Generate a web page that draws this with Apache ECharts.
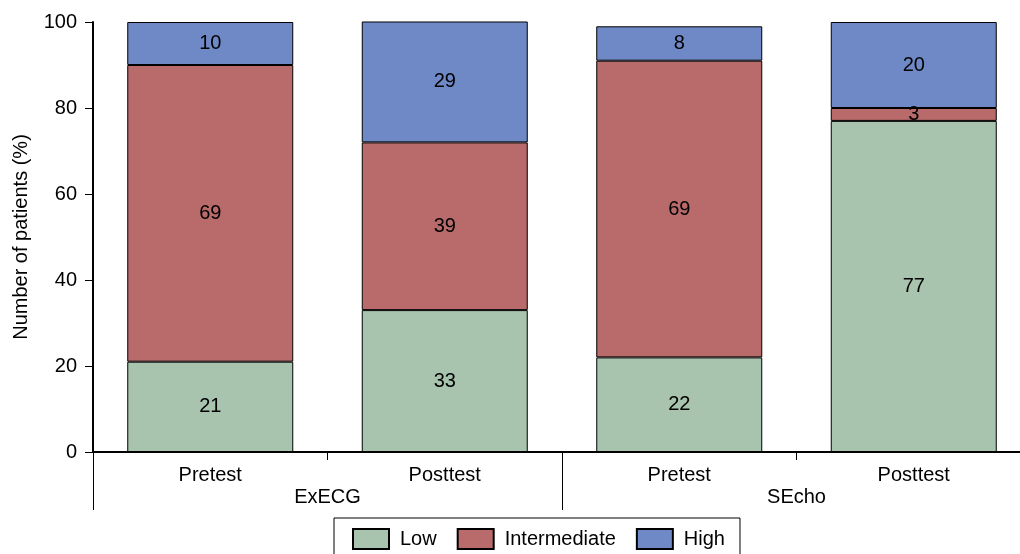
<!DOCTYPE html>
<html>
<head>
<meta charset="utf-8">
<script src="https://cdn.jsdelivr.net/npm/echarts@6/dist/echarts.min.js"></script>
<style>
  html, body { margin: 0; padding: 0; background: #fff; overflow: hidden; }
  #chart { width: 1020px; height: 554px; }
</style>
</head>
<body>
<div id="chart"></div>
<script>
// Risk category shares (%) before and after each test
const phases = ['Pretest', 'Posttest', 'Pretest', 'Posttest'];
const tests = ['ExECG', 'SEcho'];
const lowRisk = [21, 33, 22, 77];
const intermediateRisk = [69, 39, 69, 3];
const highRisk = [10, 29, 8, 20];
const yTicks = [0, 20, 40, 60, 80, 100];

const FONT = '"Liberation Sans", Arial, Helvetica, sans-serif';
const colors = { Low: '#a8c4ae', Intermediate: '#b96a6b', High: '#6f89c7' };

function segment(name, values) {
  return {
    name: name,
    type: 'bar',
    stack: 'risk',
    xAxisIndex: 0,
    barWidth: 166,
    clip: true,
    data: values,
    itemStyle: { color: colors[name], borderColor: '#000', borderWidth: 1 },
    label: {
      show: true,
      position: 'inside',
      color: '#000',
      fontFamily: FONT,
      fontSize: 20
    }
  };
}

const chart = echarts.init(document.getElementById('chart'), null, { renderer: 'canvas' });
chart.setOption({
  animation: false,
  textStyle: { fontFamily: FONT },
  // the last category runs past the right edge of the page
  grid: { left: 93, top: 22, width: 938, height: 430, containLabel: false, outerBoundsMode: 'none' },
  legend: {
    data: ['Low', 'Intermediate', 'High'],
    icon: 'rect',
    left: 334,
    top: 518,
    orient: 'horizontal',
    itemWidth: 36,
    itemHeight: 20,
    itemGap: 20,
    padding: [10, 15, 10, 18],
    borderColor: '#000',
    borderWidth: 1,
    textStyle: { color: '#000', fontFamily: FONT, fontSize: 20, padding: [0, 0, 0, 6] }
  },
  xAxis: [
    {
      type: 'category',
      data: phases,
      position: 'bottom',
      axisLine: { show: true, lineStyle: { color: '#000', width: 2 } },
      axisTick: { show: true, length: 8, lineStyle: { color: '#000', width: 1 } },
      axisLabel: { color: '#000', fontFamily: FONT, fontSize: 20, margin: 13 }
    },
    {
      type: 'category',
      data: tests,
      position: 'bottom',
      axisLine: { show: false },
      axisTick: { show: true, length: 58, lineStyle: { color: '#000', width: 1 } },
      axisLabel: { color: '#000', fontFamily: FONT, fontSize: 20, margin: 35 }
    }
  ],
  yAxis: {
    type: 'value',
    min: 0,
    max: 100,
    interval: 20,
    name: 'Number of patients (%)',
    nameLocation: 'middle',
    nameGap: 62,
    nameRotate: 90,
    nameTextStyle: { color: '#000', fontFamily: FONT, fontSize: 20 },
    axisLine: { show: true, lineStyle: { color: '#000', width: 2 } },
    axisTick: { show: true, length: 8, lineStyle: { color: '#000', width: 1 } },
    axisLabel: {
      color: '#000', fontFamily: FONT, fontSize: 20, margin: 16,
      formatter: function (v) { return yTicks.indexOf(v) >= 0 ? String(v) : ''; }
    },
    splitLine: { show: false }
  },
  series: [
    segment('Low', lowRisk),
    segment('Intermediate', intermediateRisk),
    segment('High', highRisk)
  ]
});
</script>
</body>
</html>
